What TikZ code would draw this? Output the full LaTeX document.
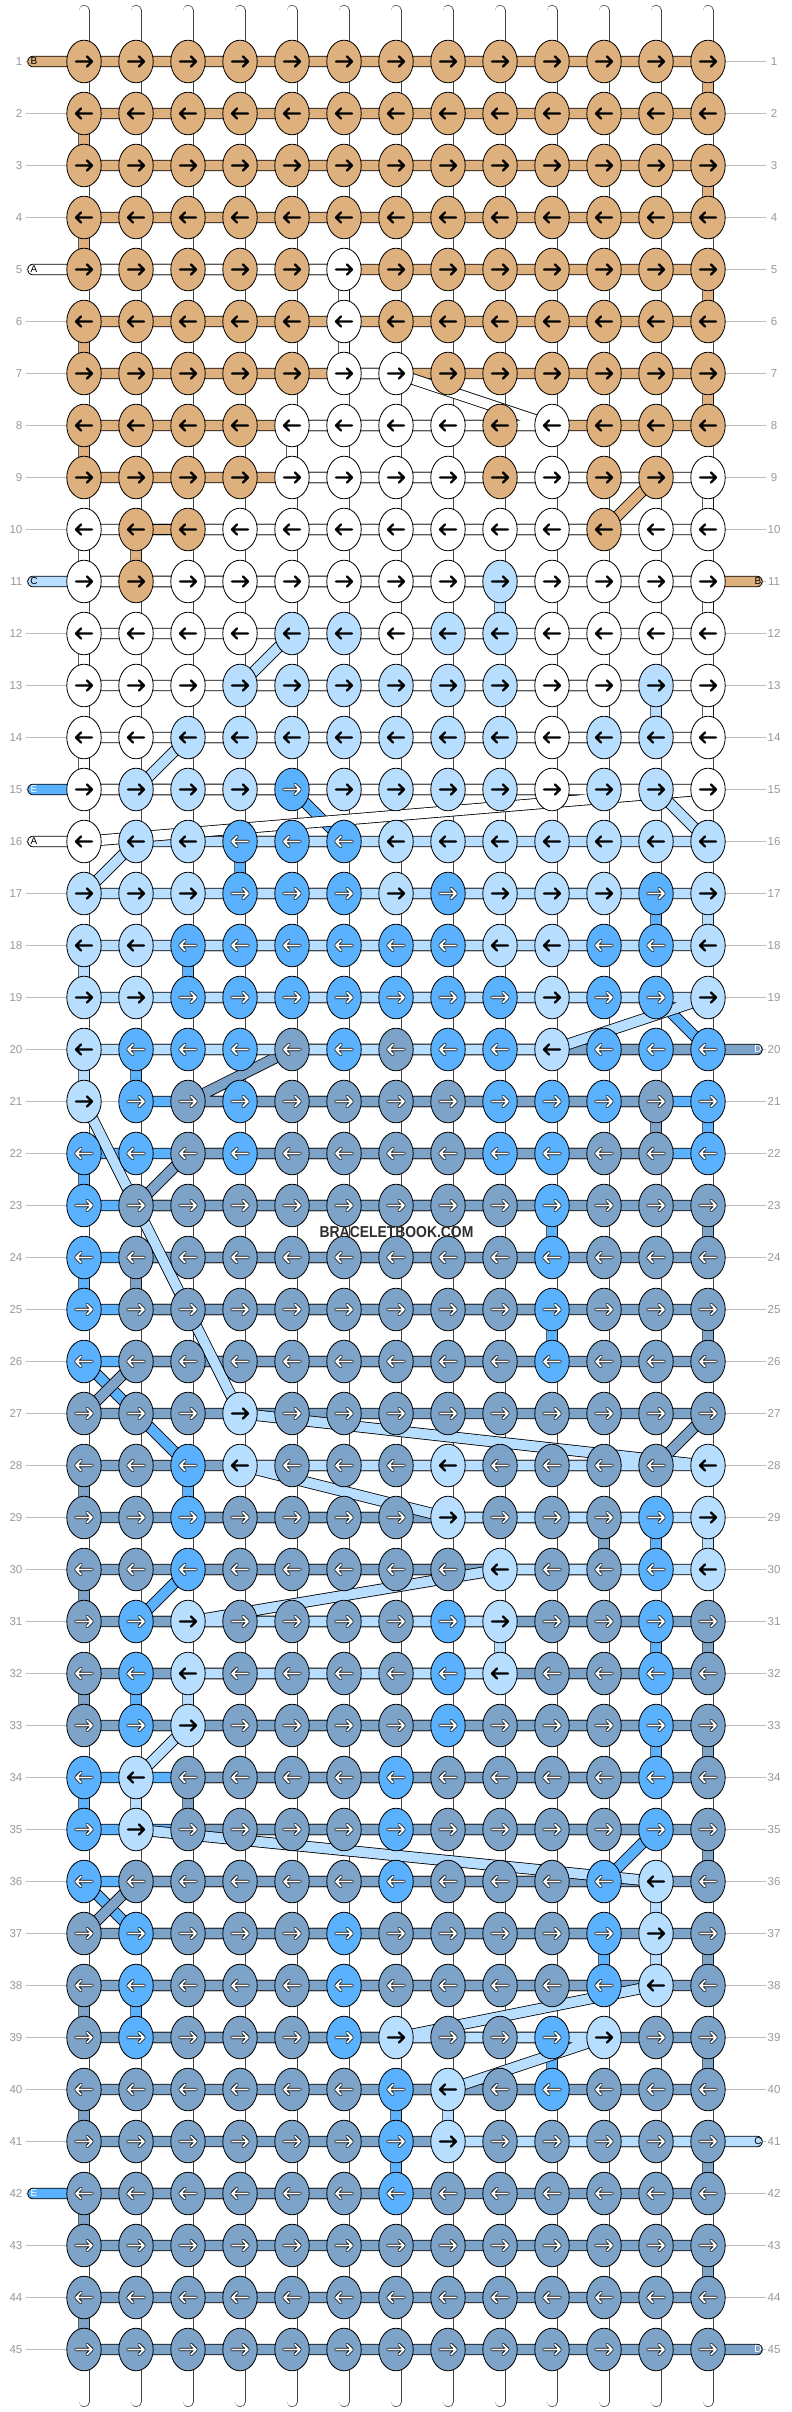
\documentclass[tikz,border=0pt]{standalone}
\usepackage{fontspec}
\setmainfont{Liberation Sans}
\usepackage{graphicx}
\usetikzlibrary{shapes.geometric}
\definecolor{kT}{HTML}{DEB07D}
\definecolor{kW}{HTML}{FFFFFF}
\definecolor{kL}{HTML}{B8DEFF}
\definecolor{kE}{HTML}{5AB2FF}
\definecolor{kD}{HTML}{7DA3C9}
\definecolor{numgray}{HTML}{999999}
\definecolor{linegray}{HTML}{BBBBBB}
\definecolor{tubegray}{HTML}{444444}
\definecolor{wmgray}{HTML}{2E2E2E}
\begin{document}
\begin{tikzpicture}[x=1pt,y=-1pt,
  strand/.style={draw=black, line width=0.8pt, double distance=9.8pt, line cap=round, line join=round},
  tube/.style={draw=tubegray, line width=0.6pt, double=white, double distance=9.8pt, line cap=round},
  knot/.style={ellipse, draw=black, line width=0.8pt, minimum width=34.4pt, minimum height=42.6pt, inner sep=0pt},
  darr/.style={draw=black, line width=0.8pt, double=white, double distance=1.8pt, line cap=round, line join=round},
  larr/.style={draw=black, line width=2.4pt, line cap=round, line join=round},
  arrT/.style={larr}, arrW/.style={larr}, arrL/.style={larr}, arrE/.style={darr}, arrD/.style={darr},
  rownum/.style={text=numgray, font=\fontsize{11.5}{12}\selectfont, inner sep=0pt},
  stublab/.style={font=\fontsize{10}{10}\selectfont, inner sep=0pt}
]
\fill[white] (0,0) rectangle (792,2412);
\path[use as bounding box] (0,0) rectangle (792,2412);

% coordinates, row guides, row numbers
\foreach \r in {1,...,45}{
  \pgfmathsetmacro\yy{61.5+52*(\r-1)}
  \coordinate (L\r) at (33,\yy);
  \coordinate (R\r) at (757,\yy);
  \coordinate (G\r) at (26,\yy);
  \coordinate (H\r) at (766,\yy);
  \foreach \c in {1,...,13}{\coordinate (p\r-\c) at ({84+52*(\c-1)},\yy);}
  \draw[linegray, line width=1pt] (G\r) -- (H\r);
  \node[rownum, anchor=east] (nl\r) at (22.5,\yy) {\r};
  \node[rownum] (nr\r) at (774,\yy) {\r};
}

% vertical base strings
\foreach \c in {1,...,13}{
  \coordinate (t\c) at ({84+52*(\c-1)},10.5);
  \coordinate (b\c) at ({84+52*(\c-1)},2401.5);
  \draw[tube] (t\c) -- (b\c);
}

% string E (bright blue)
\draw[strand, double=kE] (L15) -- (p15-5) -- (p16-6) -- (p16-4) -- (p17-4) -- (p17-12) -- (p18-12) -- (p18-3) -- (p19-3) -- (p19-12) -- (p20-13) -- (p20-2) -- (p21-2) -- (p21-13) -- (p22-13) -- (p22-1) -- (p23-1) -- (p23-10) -- (p24-10) -- (p24-1) -- (p25-1) -- (p25-10) -- (p26-10) -- (p26-1) -- (p28-3) -- (p29-3) -- (p29-12) -- (p30-12) -- (p30-3) -- (p31-2) -- (p31-12) -- (p32-12) -- (p32-2) -- (p33-2) -- (p33-12) -- (p34-12) -- (p34-1) -- (p35-1) -- (p35-12) -- (p36-11) -- (p36-1) -- (p37-2) -- (p37-11) -- (p38-11) -- (p38-2) -- (p39-2) -- (p39-10) -- (p40-10) -- (p40-7) -- (p42-7) -- (L42);

% string D (steel blue)
\draw[strand, double=kD] (R20) -- (p20-5) -- (p21-3) -- (p21-12) -- (p22-12) -- (p22-3) -- (p23-2) -- (p23-13) -- (p24-13) -- (p24-2) -- (p25-2) -- (p25-13) -- (p26-13) -- (p26-2) -- (p27-1) -- (p27-13) -- (p28-12) -- (p28-1) -- (p29-1) -- (p29-11) -- (p30-11) -- (p30-1) -- (p31-1) -- (p31-13) -- (p32-13) -- (p32-1) -- (p33-1) -- (p33-13) -- (p34-13) -- (p34-3) -- (p35-3) -- (p35-13) -- (p36-13) -- (p36-2) -- (p37-1) -- (p37-13) -- (p38-13) -- (p38-1) -- (p39-1) -- (p39-13) -- (p40-13) -- (p40-1) -- (p41-1) -- (p41-13) -- (p42-13) -- (p42-1) -- (p43-1) -- (p43-13) -- (p44-13) -- (p44-1) -- (p45-1) -- (R45);

% string B (tan)
\draw[strand, double=kT] (L1) -- (p1-13) -- (p2-13) -- (p2-1) -- (p3-1) -- (p3-13) -- (p4-13) -- (p4-1) -- (p5-1) -- (p5-13) -- (p6-13) -- (p6-1) -- (p7-1) -- (p7-13) -- (p8-13) -- (p8-1) -- (p9-1) -- (p9-12) -- (p10-11) -- (p10-2) -- (p11-2) -- (R11);

% string C (light blue)
\draw[strand, double=kL] (L11) -- (p11-9) -- (p12-9) -- (p12-5) -- (p13-4) -- (p13-12) -- (p14-12) -- (p14-3) -- (p15-2) -- (p15-12) -- (p16-13) -- (p16-2) -- (p17-1) -- (p17-13) -- (p18-13) -- (p18-1) -- (p19-1) -- (p19-13) -- (p20-10) -- (p20-1) -- (p21-1) -- (p27-4) -- (p28-13) -- (p28-4) -- (p29-8) -- (p29-13) -- (p30-13) -- (p30-9) -- (p31-3) -- (p31-9) -- (p32-9) -- (p32-3) -- (p33-3) -- (p34-2) -- (p35-2) -- (p36-12) -- (p38-12) -- (p39-7) -- (p39-11) -- (p40-8) -- (p41-8) -- (R41);

% string A (white)
\draw[strand, double=kW] (L5) -- (p5-6) -- (p7-6) -- (p7-7) -- (p8-10) -- (p8-5) -- (p9-5) -- (p9-13) -- (p10-13) -- (p10-1) -- (p11-1) -- (p11-13) -- (p12-13) -- (p12-1) -- (p13-1) -- (p13-13) -- (p14-13) -- (p14-1) -- (p15-1) -- (p15-13) -- (p16-1) -- (L16);

% tan piece shown above the white string in row 10
\draw[strand, double=kT] (p10-3) -- (p10-2);

% stub labels
\node[stublab, text=black] (sB1) at (34,61.5) {B};
\node[stublab, text=black] (sA5) at (34,269.5) {A};
\node[stublab, text=black] (sC11) at (34,581.5) {C};
\node[stublab, text=black] (sB11) at (758,581.5) {B};
\node[stublab, text=white] (sE15) at (34,789.5) {E};
\node[stublab, text=black] (sA16) at (34,841.5) {A};
\node[stublab, text=white] (sD20) at (758,1049.5) {D};
\node[stublab, text=black] (sC41) at (758,2141.5) {C};
\node[stublab, text=white] (sE42) at (34,2193.5) {E};
\node[stublab, text=white] (sD45) at (758,2349.5) {D};

% knots and arrows
\foreach \r/\row in {
 1/{T,T,T,T,T,T,T,T,T,T,T,T,T},
 2/{T,T,T,T,T,T,T,T,T,T,T,T,T},
 3/{T,T,T,T,T,T,T,T,T,T,T,T,T},
 4/{T,T,T,T,T,T,T,T,T,T,T,T,T},
 5/{T,T,T,T,T,W,T,T,T,T,T,T,T},
 6/{T,T,T,T,T,W,T,T,T,T,T,T,T},
 7/{T,T,T,T,T,W,W,T,T,T,T,T,T},
 8/{T,T,T,T,W,W,W,W,T,W,T,T,T},
 9/{T,T,T,T,W,W,W,W,T,W,T,T,W},
 10/{W,T,T,W,W,W,W,W,W,W,T,W,W},
 11/{W,T,W,W,W,W,W,W,L,W,W,W,W},
 12/{W,W,W,W,L,L,W,L,L,W,W,W,W},
 13/{W,W,W,L,L,L,L,L,L,W,W,L,W},
 14/{W,W,L,L,L,L,L,L,L,W,L,L,W},
 15/{W,L,L,L,E,L,L,L,L,W,L,L,W},
 16/{W,L,L,E,E,E,L,L,L,L,L,L,L},
 17/{L,L,L,E,E,E,L,E,L,L,L,E,L},
 18/{L,L,E,E,E,E,E,E,L,L,E,E,L},
 19/{L,L,E,E,E,E,E,E,E,L,E,E,L},
 20/{L,E,E,E,D,E,D,E,E,L,E,E,E},
 21/{L,E,D,E,D,D,D,D,E,E,E,D,E},
 22/{E,E,D,E,D,D,D,D,E,E,D,D,E},
 23/{E,D,D,D,D,D,D,D,D,E,D,D,D},
 24/{E,D,D,D,D,D,D,D,D,E,D,D,D},
 25/{E,D,D,D,D,D,D,D,D,E,D,D,D},
 26/{E,D,D,D,D,D,D,D,D,E,D,D,D},
 27/{D,D,D,L,D,D,D,D,D,D,D,D,D},
 28/{D,D,E,L,D,D,D,L,D,D,D,D,L},
 29/{D,D,E,D,D,D,D,L,D,D,D,E,L},
 30/{D,D,E,D,D,D,D,D,L,D,D,E,L},
 31/{D,E,L,D,D,D,D,E,L,D,D,E,D},
 32/{D,E,L,D,D,D,D,E,L,D,D,E,D},
 33/{D,E,L,D,D,D,D,E,D,D,D,E,D},
 34/{E,L,D,D,D,D,E,D,D,D,D,E,D},
 35/{E,L,D,D,D,D,E,D,D,D,D,E,D},
 36/{E,D,D,D,D,D,E,D,D,D,E,L,D},
 37/{D,E,D,D,D,E,D,D,D,D,E,L,D},
 38/{D,E,D,D,D,E,D,D,D,D,E,L,D},
 39/{D,E,D,D,D,E,L,D,D,E,L,D,D},
 40/{D,D,D,D,D,D,E,L,D,E,D,D,D},
 41/{D,D,D,D,D,D,E,L,D,D,D,D,D},
 42/{D,D,D,D,D,D,E,D,D,D,D,D,D},
 43/{D,D,D,D,D,D,D,D,D,D,D,D,D},
 44/{D,D,D,D,D,D,D,D,D,D,D,D,D},
 45/{D,D,D,D,D,D,D,D,D,D,D,D,D}}{
  \pgfmathsetmacro\dir{ifthenelse(mod(\r,2)==1,1,-1)}
  \foreach \k [count=\c] in \row {
    \node[knot, fill=k\k] (k\r-\c) at (p\r-\c) {};
    \draw[arr\k, shift={(p\r-\c)}, xscale=\dir] (-8,0) -- (8,0) (3,-5) -- (8,0) -- (3,5);
  }
}

% watermark
\node[text=wmgray, font=\bfseries\fontsize{15.8}{16}\selectfont, inner sep=0pt] (wm) at (396.5,1231.7) {\scalebox{0.88}[1]{BRACELETBOOK.COM}};
\end{tikzpicture}
\end{document}
